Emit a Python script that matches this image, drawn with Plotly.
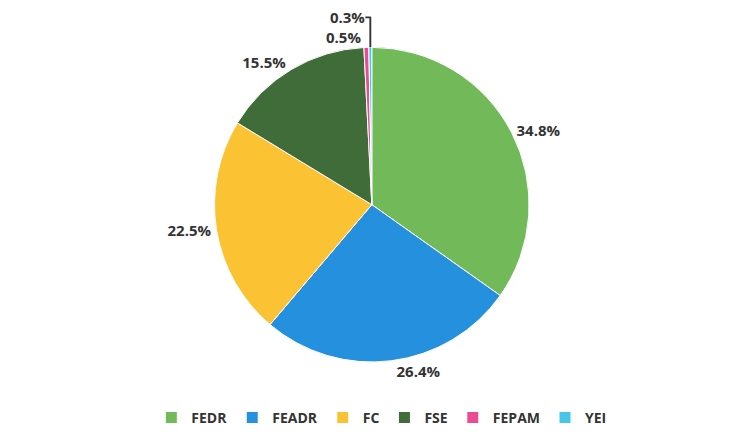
import plotly.graph_objects as go

labels = ["FEDR", "FEADR", "FC", "FSE", "FEPAM", "YEI"]
values = [34.8, 26.4, 22.5, 15.5, 0.5, 0.3]
colors = ["#72b95a", "#2590de", "#fbc234", "#3f6c38", "#ea4b93", "#45c6ea"]

fig = go.Figure(go.Pie(
    labels=labels,
    values=values,
    sort=False,
    direction="clockwise",
    rotation=0,
    marker=dict(colors=colors, line=dict(color="#ffffff", width=1)),
    texttemplate="%{percent:.1%}",
    textposition="outside",
    textfont=dict(family="Open Sans", size=15, color="#333333", weight="bold"),
    domain=dict(x=[0.189, 0.805], y=[0.19, 0.91]),
    hoverinfo="label+percent",
))

fig.update_layout(
    width=732, height=437,
    autosize=False,
    margin=dict(l=0, r=0, t=0, b=0, autoexpand=False),
    paper_bgcolor="#ffffff",
    plot_bgcolor="#ffffff",
    showlegend=True,
    legend=dict(orientation="h", x=0.51, xanchor="center", y=0.062, yanchor="middle",
                font=dict(family="Open Sans", size=14, color="#333333", weight="bold"),
                itemwidth=30, tracegroupgap=0),
)

fig.write_html("out.html")
